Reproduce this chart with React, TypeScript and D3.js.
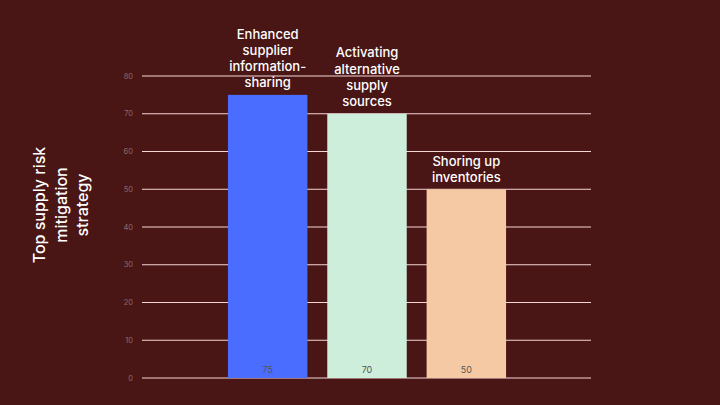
import React from "react";
import * as d3 from "d3";

const categories = ["Enhanced supplier information-sharing", "Activating alternative supply sources", "Shoring up inventories"];
const labelLines = [
  ["Enhanced", "supplier", "information-", "sharing"],
  ["Activating", "alternative", "supply", "sources"],
  ["Shoring up", "inventories"],
];
const values = [75, 70, 50];
const colors = ["#4a6cff", "#cdeedb", "#f5c9a3"];
const yTicks = [0, 10, 20, 30, 40, 50, 60, 70, 80];
const titleLines = ["Top supply risk", "mitigation", "strategy"];

export default function App() {
  const W = 720, H = 405;
  const x = d3.scaleBand<string>().domain(categories).range([218, 516]).paddingInner(0.2).paddingOuter(0.1);
  const y = d3.scaleLinear().domain([0, 80]).range([378, 76]);
  const font = "Inter, 'Noto Sans', sans-serif";
  return (
    <svg width={W} height={H} style={{ position: "absolute", left: 0, top: 0, display: "block" }}>
      <rect x={0} y={0} width={W} height={H} fill="#4a1515" />
      {yTicks.map((t) => (
        <g key={t}>
          <line x1={142} x2={591} y1={y(t)} y2={y(t)} stroke="#f4d6d6" strokeWidth={1} />
          <text x={133} y={y(t)} dy="0.35em" textAnchor="end" fontSize={7.5} fill="#8a6a6a" fontFamily={font}>{t}</text>
        </g>
      ))}
      {categories.map((c, i) => {
        const bx = x(c)!;
        const bw = x.bandwidth();
        const top = y(values[i]);
        const lines = labelLines[i];
        return (
          <g key={c}>
            <rect x={bx} y={top} width={bw} height={y(0) - top} fill={colors[i]} />
            <text x={bx + bw / 2} y={370} dy="0.35em" textAnchor="middle" fontSize={9} fill="#555" fontFamily={font}>{values[i]}</text>
            {lines.map((l, j) => (
              <text key={j} x={bx + bw / 2} y={top - 12 - (lines.length - 1 - j) * 16.3} dy="0.35em" textAnchor="middle" fontSize={13} fontWeight={500} fill="#ffffff" fontFamily={font}>{l}</text>
            ))}
          </g>
        );
      })}
      <g transform="translate(61,205) rotate(-90)">
        {titleLines.map((l, j) => (
          <text key={j} x={0} y={(j - 1) * 21.5} dy="0.35em" textAnchor="middle" fontSize={16} fontWeight={500} fill="#ffffff" fontFamily={font}>{l}</text>
        ))}
      </g>
    </svg>
  );
}
